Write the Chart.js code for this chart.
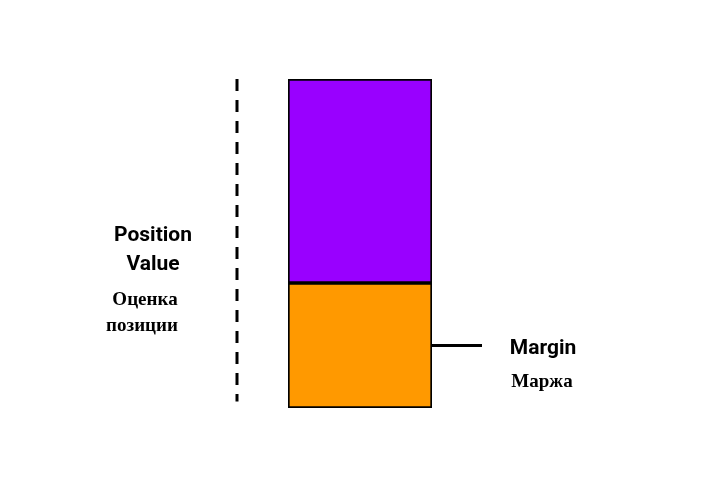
<!DOCTYPE html>
<html><head><meta charset="utf-8">
<script src="https://cdn.jsdelivr.net/npm/chart.js"></script>
<style>
body{margin:0;background:#fff;}
#wrap{position:relative;width:720px;height:500px;}
.t{position:absolute;text-align:center;transform:translate(-50%,-50%);white-space:nowrap;color:#000;}
.en{font-family:Roboto,"Liberation Sans",sans-serif;font-weight:700;font-size:21px;}
.ru{font-family:"Liberation Serif","DejaVu Serif",serif;font-weight:700;font-size:19px;}
</style></head><body>
<div id="wrap"><canvas id="c" width="720" height="500"></canvas>
<div class="t en" style="left:153px;top:234px">Position</div>
<div class="t en" style="left:153px;top:263px">Value</div>
<div class="t ru" style="left:145px;top:299px">Оценка</div>
<div class="t ru" style="left:142px;top:325px">позиции</div>
<div class="t en" style="left:543px;top:347px">Margin</div>
<div class="t ru" style="left:542px;top:381px">Маржа</div>
</div>
<script>
const categories=["Position"];
const marginValues=[38];
const remainderValues=[62];
const deco={id:'deco',afterDraw(ch){
 const c=ch.ctx,y=ch.scales.y,a=ch.chartArea;
 c.save();c.strokeStyle='#000';c.lineWidth=3;c.setLineDash([12,9]);
 c.beginPath();c.moveTo(237,y.getPixelForValue(100));c.lineTo(237,y.getPixelForValue(2));c.stroke();
 c.setLineDash([]);const my=y.getPixelForValue(marginValues[0]/2);
 c.beginPath();c.moveTo(a.right,my);c.lineTo(a.right+50,my);c.stroke();c.restore();}};
new Chart(document.getElementById('c'),{type:'bar',
 data:{labels:categories,datasets:[
  {data:marginValues,backgroundColor:'#FF9900',borderColor:'#000',borderWidth:2,borderSkipped:false},
  {data:remainderValues,backgroundColor:'#9900FF',borderColor:'#000',borderWidth:2,borderSkipped:false}]},
 options:{responsive:false,animation:false,events:[],
  layout:{padding:{left:288,right:288,top:79,bottom:92}},
  plugins:{legend:{display:false},tooltip:{enabled:false}},
  datasets:{bar:{barPercentage:1,categoryPercentage:1}},
  scales:{x:{stacked:true,display:false},y:{stacked:true,display:false,min:0,max:100}}},
 plugins:[deco]});
</script></body></html>
